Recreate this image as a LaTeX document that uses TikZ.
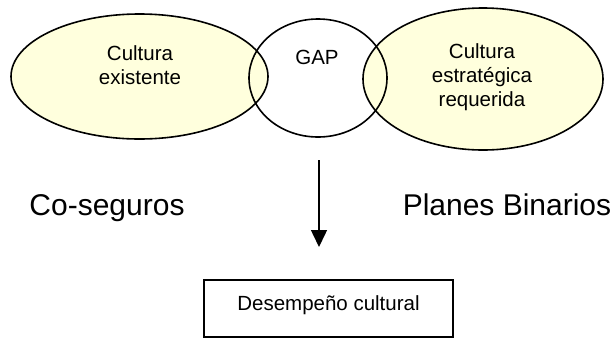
\documentclass[tikz,border=0pt]{standalone}
\usepackage{fontspec}
\setmainfont{Liberation Sans}
\usetikzlibrary{arrows.meta, positioning, shapes}
\definecolor{amarillo}{RGB}{255,255,221}

\begin{document}
\begin{tikzpicture}[x=1pt, y=-1pt, font=\fontsize{20.5}{24}\selectfont]
\tikzset{every node/.style={inner sep=0mm, outer sep=0mm}}

\tikzstyle{cultura}=[ellipse, draw=black, fill=amarillo, line width=1.6pt]
\tikzstyle{brecha}=[ellipse, draw=black, line width=1.6pt]
\tikzstyle{label}=[align=center]
\tikzstyle{grande}=[font=\fontsize{30}{36}\selectfont, anchor=base]
\tikzstyle{caja}=[rectangle, draw=black, line width=1.1pt, minimum width=249pt, minimum height=57pt, text height=11pt, text depth=8pt]
\tikzstyle{post}=[-{Triangle[width=16pt, length=17pt]}, line width=1.5pt]

\useasboundingbox (0,0) rectangle (612,338);

\node[cultura, minimum width=257pt, minimum height=125pt] (existente) at (139.5,76.5) {};
\node[cultura, minimum width=240pt, minimum height=142pt] (requerida) at (483,79) {};
\node[brecha, minimum width=138pt, minimum height=118pt] (gap) at (318,78) {};

\node[label] (existente label) at ([xshift=0.5pt, yshift=11.5pt]existente.center) {Cultura\\existente};
\node[label] (requerida label) at ([xshift=-1pt, yshift=2pt]requerida.center) {Cultura\\estratégica\\requerida};
\node[label] (gap label) at ([xshift=-1pt, yshift=21pt]gap.center) {GAP};

\node[grande] (coseguros) at (107,215) {Co-seguros};
\node[grande] (binarios) at (507,215) {Planes Binarios};

\node[caja] (desempeno) at (328.5,308.5) {Desempeño cultural};

\coordinate (flecha inicio) at (319,160);
\coordinate (flecha fin) at (319,247);
\draw[post] (flecha inicio) -- (flecha fin);

\end{tikzpicture}
\end{document}
